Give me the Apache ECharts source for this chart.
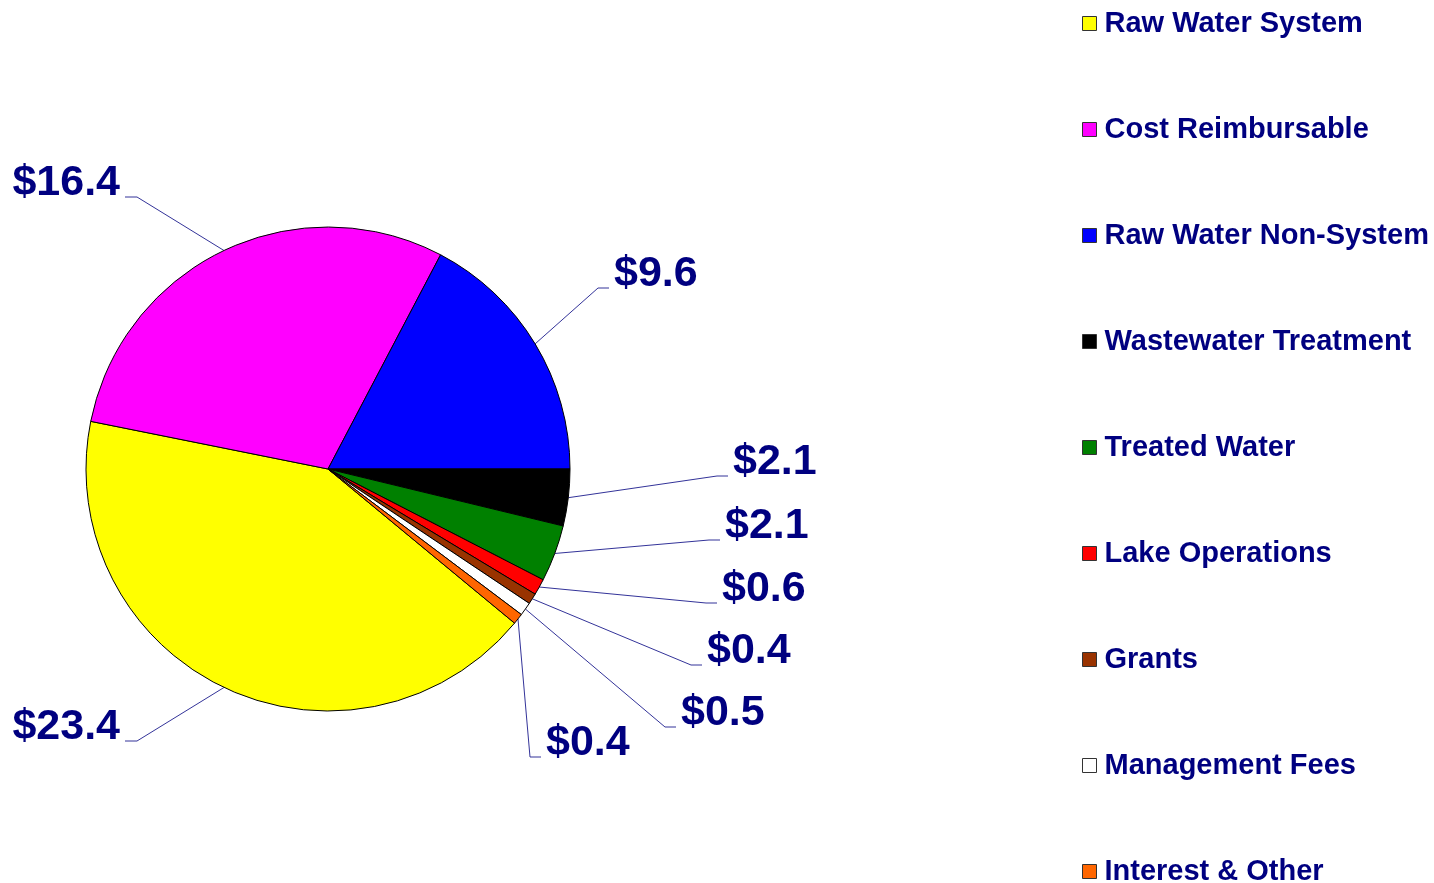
<!DOCTYPE html>
<html>
<head>
<meta charset="utf-8">
<script src="https://cdn.jsdelivr.net/npm/echarts@6/dist/echarts.min.js"></script>
<style>
    html, body { margin: 0; padding: 0; background: #fff; }
    #grafico { width: 1434px; height: 883px; }
</style>
</head>
<body>
<div id="grafico"></div>
<script>
// ==============================================
// DATOS (millones de dólares)
// ==============================================

const categorias = ['Raw Water System', 'Cost Reimbursable', 'Raw Water Non-System', 'Wastewater Treatment',
    'Treated Water', 'Lake Operations', 'Grants', 'Management Fees', 'Interest & Other'];
const valores = [23.4, 16.4, 9.6, 2.1, 2.1, 0.6, 0.4, 0.5, 0.4];
const colores = ['#ffff00', '#ff00ff', '#0000ff', '#000000', '#008000', '#ff0000', '#993300', '#ffffff', '#ff6600'];

// ==============================================
// DISPOSICIÓN
// ==============================================

const centro = [328, 469];
const radio = 242;
// posición de cada etiqueta: [x del borde, y del centro, lado]
const etiquetas = [
    [120, 727, 'izq'],
    [120, 183, 'izq'],
    [614, 274, 'der'],
    [733, 462, 'der'],
    [725, 526, 'der'],
    [722, 589, 'der'],
    [707, 651, 'der'],
    [681, 713, 'der'],
    [546, 743, 'der']
];

const total = valores.reduce((a, b) => a + b, 0);
// la porción negra empieza justo a las 3 en punto
const anguloInicio = 360 * (valores[0] + valores[1] + valores[2]) / total;

function anclaPorcion(i) {
    let acum = 0;
    for (let k = 0; k < i; k++) acum += valores[k];
    const ang = (anguloInicio - 360 * (acum + valores[i] / 2) / total) * Math.PI / 180;
    return [centro[0] + radio * Math.cos(ang), centro[1] - radio * Math.sin(ang)];
}

const chart = echarts.init(document.getElementById('grafico'));

const option = {
    animation: false,
    backgroundColor: '#ffffff',
    legend: {
        orient: 'vertical',
        left: 1082,
        top: 9,
        height: 1000,
        padding: 0,
        itemWidth: 14,
        itemHeight: 14,
        itemGap: 77,
        icon: 'rect',
        selectedMode: false,
        itemStyle: { borderColor: '#333333', borderWidth: 1 },
        textStyle: {
            fontFamily: 'Liberation Sans, Arial, sans-serif',
            fontSize: 29,
            fontWeight: 'bold',
            color: '#000080',
            padding: [0, 0, 0, 3]
        },
        data: categorias
    },
    series: [{
        type: 'pie',
        center: centro,
        radius: radio,
        startAngle: anguloInicio,
        clockwise: true,
        avoidLabelOverlap: false,
        emphasis: { disabled: true },
        itemStyle: { borderColor: '#000000', borderWidth: 1 },
        label: {
            show: true,
            position: 'outside',
            formatter: (p) => '$' + p.value.toFixed(1),
            fontFamily: 'Liberation Sans, Arial, sans-serif',
            fontSize: 43,
            fontWeight: 'bold',
            color: '#000080'
        },
        labelLine: {
            show: true,
            length: 10,
            length2: 10,
            lineStyle: { color: '#333399', width: 1 }
        },
        labelLayout: function (params) {
            const i = params.dataIndex;
            const [lx, ly, lado] = etiquetas[i];
            const ancla = anclaPorcion(i);
            const bajo = ly + 14;
            const izq = lado === 'izq';
            const fin = [izq ? lx + 5 : lx - 5, bajo];
            const codo = [izq ? lx + 17 : lx - 16, bajo];
            return {
                x: lx,
                y: ly,
                align: izq ? 'right' : 'left',
                verticalAlign: 'middle',
                labelLinePoints: [ancla, codo, fin]
            };
        },
        data: categorias.map((c, i) => ({ name: c, value: valores[i], itemStyle: { color: colores[i] } }))
    }]
};

chart.setOption(option);
</script>
</body>
</html>
